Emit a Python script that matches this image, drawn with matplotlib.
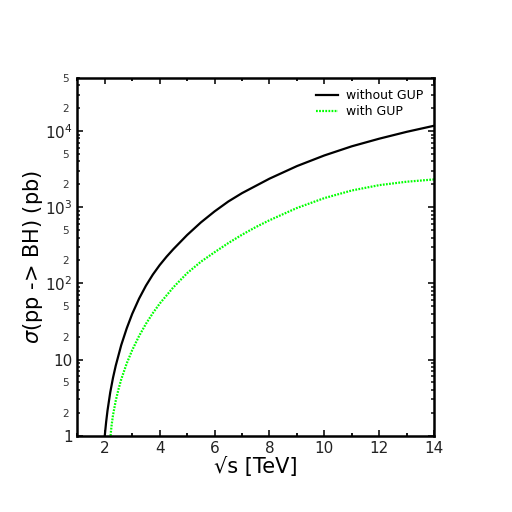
import numpy as np
import matplotlib
matplotlib.use("Agg")
import matplotlib.pyplot as plt
from matplotlib.ticker import FixedLocator, FixedFormatter

# cross sections, as log10(sigma / pb)
sqrt_s_nogup = [2.0, 2.05, 2.1, 2.2, 2.3, 2.4, 2.6, 2.8, 3.0, 3.25, 3.5, 3.75, 4.0, 4.25,
                4.5, 5.0, 5.5, 6.0, 6.5, 7.0, 8.0, 9.0, 10.0, 11.0, 12.0, 13.0, 14.0]
logsig_nogup = [0.0, 0.18, 0.33, 0.57, 0.76, 0.92, 1.19, 1.41, 1.60, 1.80, 1.97, 2.115, 2.24, 2.35,
                2.45, 2.635, 2.80, 2.945, 3.075, 3.185, 3.375, 3.54, 3.68, 3.80, 3.90, 3.99, 4.07]

sqrt_s_gup = [2.21, 2.25, 2.3, 2.4, 2.5, 2.6, 2.8, 3.0, 3.25, 3.5, 3.75, 4.0, 4.5,
              5.0, 5.5, 6.0, 6.5, 7.0, 7.5, 8.0, 9.0, 10.0, 11.0, 12.0, 13.0, 14.0]
logsig_gup = [0.0, 0.14, 0.27, 0.46, 0.61, 0.74, 0.95, 1.124, 1.309, 1.469, 1.609, 1.734, 1.949,
              2.134, 2.284, 2.409, 2.529, 2.639, 2.739, 2.829, 2.99, 3.12, 3.22, 3.29, 3.335, 3.365]

x_ticks = [2, 4, 6, 8, 10, 12, 14]
y_major = [1, 10, 1e2, 1e3, 1e4]
y_major_labels = ['1', '10', r'$10^2$', r'$10^3$', r'$10^4$']

fig = plt.figure(figsize=(5.12, 5.12), dpi=100)
ax = fig.add_axes([0.151, 0.149, 0.697, 0.699])

ax.plot(sqrt_s_nogup, 10 ** np.array(logsig_nogup), color='black', lw=1.6,
        label='without GUP')
ax.plot(sqrt_s_gup, 10 ** np.array(logsig_gup), color='#00ff00', lw=1.6,
        ls=(0, (0.8, 0.6)), label='with GUP')

ax.set_xlim(1, 14)
ax.set_yscale('log')
ax.set_ylim(1, 5e4)

ax.xaxis.set_major_locator(FixedLocator(x_ticks))
ax.xaxis.set_minor_locator(FixedLocator(np.arange(1, 15, 1)))
ax.yaxis.set_major_locator(FixedLocator(y_major))
ax.yaxis.set_major_formatter(FixedFormatter(y_major_labels))

# minor ticks 2..9 per decade, only 2 and 5 labelled
minor = []
minor_labels = []
for dec in [1, 10, 100, 1000, 10000]:
    for m in range(2, 10):
        v = m * dec
        if v > 5e4:
            break
        minor.append(v)
        minor_labels.append(str(m) if m in (2, 5) else '')
ax.yaxis.set_minor_locator(FixedLocator(minor))
ax.yaxis.set_minor_formatter(FixedFormatter(minor_labels))

ax.tick_params(which='both', direction='in', top=True, right=True, width=1.3)
ax.tick_params(which='major', length=4, labelsize=11, colors='#222222')
ax.tick_params(axis='y', which='minor', length=2.5, labelsize=7.5, pad=6,
               colors='#333333')
ax.tick_params(axis='x', which='minor', length=2.5)
for sp in ax.spines.values():
    sp.set_linewidth(1.8)

ax.set_xlabel('√s [TeV]', fontsize=15, labelpad=1)
ax.set_ylabel(r'$\sigma$(pp -> BH) (pb)', fontsize=15, labelpad=0)

ax.legend(loc='upper right', frameon=False, fontsize=9, handlelength=1.8,
          handletextpad=0.6, borderaxespad=0.5, labelspacing=0.25)

fig.savefig('out.png', dpi=100)
